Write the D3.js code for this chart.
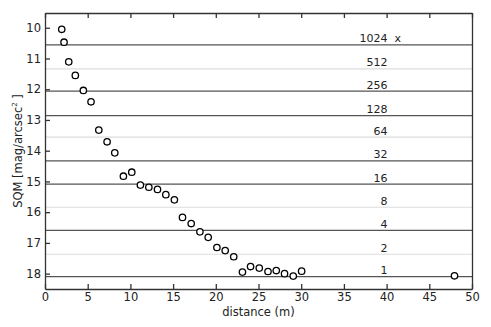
<!DOCTYPE html>
<html>
<head>
<meta charset="utf-8">
<script src="https://cdn.jsdelivr.net/npm/d3@7"></script>
<style>
	body { margin: 0; background: #fff; }
	svg { display: block; font-family: "DejaVu Sans", Verdana, sans-serif; }
</style>
</head>
<body>
<div id="chart"></div>
<script>
// distance (m) and SQM reading
const distance = [1.96, 2.23, 2.78, 3.55, 4.49, 5.39, 6.3, 7.27, 8.17, 9.18, 10.16, 11.17, 12.16, 13.17, 14.15, 15.15,
	16.1, 17.12, 18.14, 19.11, 20.13, 21.1, 22.1, 23.12, 24.07, 25.09, 26.11, 27.08, 28.05, 29.07, 30.05, 47.95]
const sqm = [10.05, 10.47, 11.11, 11.55, 12.04, 12.41, 13.33, 13.71, 14.07, 14.83, 14.7, 15.12, 15.19, 15.26, 15.43, 15.6,
	16.17, 16.37, 16.64, 16.82, 17.15, 17.25, 17.45, 17.95, 17.77, 17.82, 17.93, 17.9, 18.0, 18.08, 17.92, 18.07]

// brightness factor bands (line below each label)
const bandLabels = ['1024', '512', '256', '128', '64', '32', '16', '8', '4', '2', '1']
const bandLines = [10.56, 11.34, 12.06, 12.86, 13.56, 14.33, 15.09, 15.84, 16.59, 17.37, 18.1]
const bandLight = [false, true, false, false, true, false, false, true, false, true, false]

const xTicks = [0, 5, 10, 15, 20, 25, 30, 35, 40, 45, 50]
const yTicks = [10, 11, 12, 13, 14, 15, 16, 17, 18]

const W = 491, H = 327
const m = {top: 13, right: 19, bottom: 38, left: 45}

const $svg = d3.select('#chart').append('svg')
	.attr('width', W)
	.attr('height', H)

const x = d3.scaleLinear().domain([0, 50]).range([m.left, W - m.right])
const y = d3.scaleLinear().domain([9.52, 18.5]).range([m.top, H - m.bottom])

// Band lines
$svg.append('g')
	.selectAll('line')
	.data(bandLines)
	.enter()
	.append('line')
	.attr('x1', x(0))
	.attr('x2', x(50))
	.attr('y1', d => y(d))
	.attr('y2', d => y(d))
	.attr('stroke', (d, i) => bandLight[i] ? '#dcdcdc' : '#555')
	.attr('stroke-width', 1.2)

// Band labels
const $labels = $svg.append('g')
	.style('font-size', '11px')
	.attr('fill', '#222')

$labels.selectAll('text')
	.data(bandLabels)
	.enter()
	.append('text')
	.attr('x', x(40.1))
	.attr('y', (d, i) => y(bandLines[i]) - 2.5)
	.attr('text-anchor', 'end')
	.text(d => d)

$labels.append('text')
	.attr('x', x(40.1) + 7)
	.attr('y', y(bandLines[0]) - 2.5)
	.text('x')

// Axes
const axisColor = '#333'

$svg.append('g')
	.attr('transform', `translate(0, ${H - m.bottom})`)
	.call(d3.axisBottom(x).tickValues(xTicks).tickSizeInner(-5).tickSizeOuter(0).tickPadding(4))

$svg.append('g')
	.attr('transform', `translate(0, ${m.top})`)
	.call(d3.axisTop(x).tickValues(xTicks).tickSizeInner(-5).tickSizeOuter(0).tickFormat(''))

$svg.append('g')
	.attr('transform', `translate(${m.left}, 0)`)
	.call(d3.axisLeft(y).tickValues(yTicks).tickSizeInner(-5).tickSizeOuter(0).tickPadding(4))

$svg.append('g')
	.attr('transform', `translate(${W - m.right}, 0)`)
	.call(d3.axisRight(y).tickValues([]).tickSizeOuter(0))

$svg.selectAll('.domain, .tick line')
	.attr('stroke', axisColor)
	.attr('stroke-width', 1.3)

$svg.selectAll('.tick text')
	.attr('fill', '#222')
	.style('font-size', '11.5px')
	.style('font-family', '"DejaVu Sans", Verdana, sans-serif')

// Axis titles
$svg.append('text')
	.attr('x', (x(0) + x(50)) / 2)
	.attr('y', H - 11)
	.attr('text-anchor', 'middle')
	.style('font-size', '11.5px')
	.attr('fill', '#222')
	.text('distance (m)')

const $yTitle = $svg.append('text')
	.attr('transform', `translate(22, ${(y(9.52) + y(18.5)) / 2}) rotate(-90)`)
	.attr('text-anchor', 'middle')
	.style('font-size', '11.5px')
	.attr('fill', '#222')

$yTitle.append('tspan').text('SQM [mag/arcsec')
$yTitle.append('tspan').attr('dy', -5).style('font-size', '7px').text('2')
$yTitle.append('tspan').attr('dy', 5).text(' ]')

// Points
$svg.append('g')
	.selectAll('circle')
	.data(distance)
	.enter()
	.append('circle')
	.attr('cx', d => x(d))
	.attr('cy', (d, i) => y(sqm[i]))
	.attr('r', 3.2)
	.attr('fill', '#fff')
	.attr('stroke', '#000')
	.attr('stroke-width', 1.3)
</script>
</body>
</html>
